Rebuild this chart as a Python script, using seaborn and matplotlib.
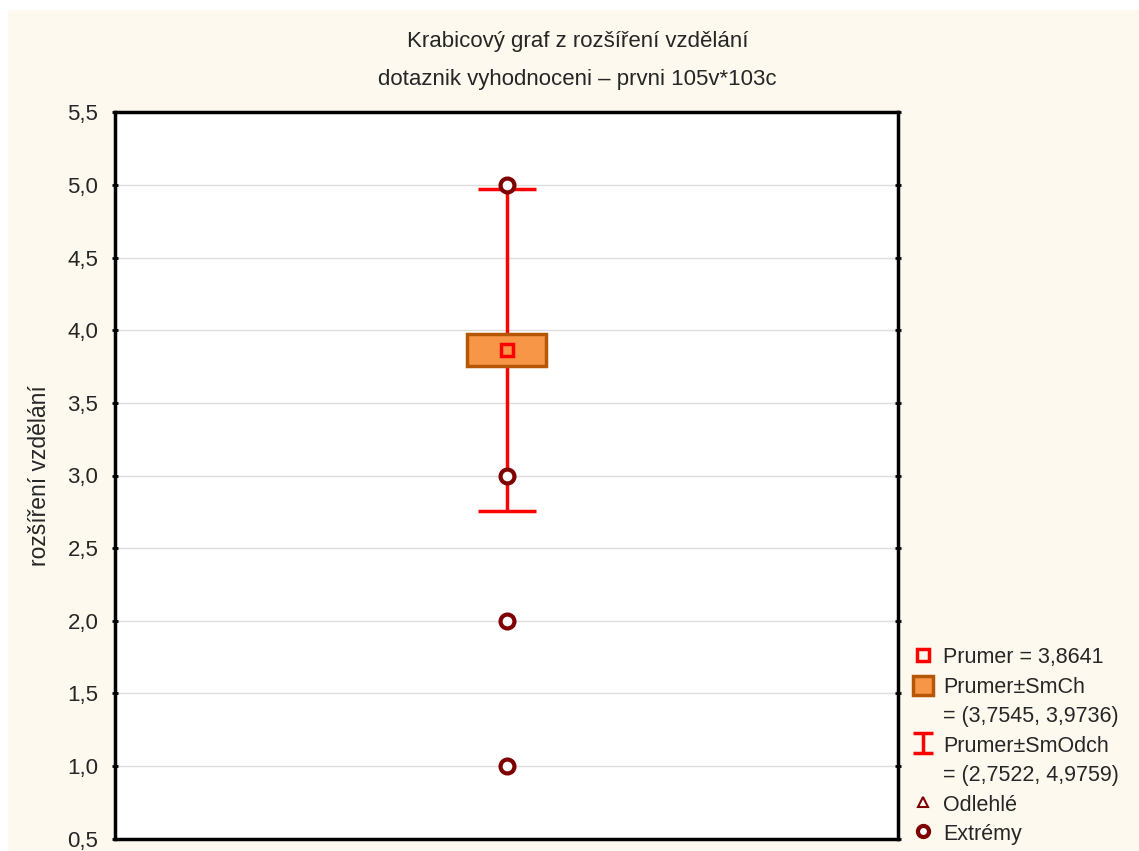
import numpy as np
import pandas as pd
import seaborn as sns
import matplotlib.pyplot as plt
from matplotlib.lines import Line2D
from matplotlib.patches import Patch, Rectangle
from matplotlib.path import Path

# data
group = [""]
mean_val = 3.8641
se_low, se_high = 3.7545, 3.9736
sd_low, sd_high = 2.7522, 4.9759
extremes = [5.0, 3.0, 2.0, 1.0]
yticks = [0.5, 1.0, 1.5, 2.0, 2.5, 3.0, 3.5, 4.0, 4.5, 5.0, 5.5]
ytick_labels = ["0,5", "1,0", "1,5", "2,0", "2,5", "3,0", "3,5", "4,0", "4,5", "5,0", "5,5"]

sns.set_style("white")
plt.rcParams['font.family'] = ['Liberation Sans', 'DejaVu Sans']

cream = "#fdf9ee"
red = "#ff0000"
darkred = "#7f0000"
orange = "#f79646"
brown = "#b65708"

fig = plt.figure(figsize=(11.39, 8.51), dpi=100, facecolor="white")
# cream background panel (white strip on top and left like the original export)
fig.patches.append(Rectangle((8 / 1139, 0), 1, 1 - 10 / 851, transform=fig.transFigure,
                             facecolor=cream, edgecolor="none", zorder=-10))

ax = fig.add_axes([115 / 1139, 1 - 838.6 / 851, 783 / 1139, (838.6 - 112.4) / 851])
ax.set_facecolor("white")

# whisker: mean +- SD
ax.errorbar(0, mean_val, yerr=[[mean_val - sd_low], [sd_high - mean_val]], fmt="none",
            ecolor=red, elinewidth=2.5, capsize=21, capthick=2.5, zorder=2)
# box: mean +- SE
ax.bar(0, se_high - se_low, bottom=se_low, width=0.101, color=orange,
       edgecolor=brown, linewidth=2.5, zorder=3)
# mean marker
ax.plot(0, mean_val, marker="s", ms=8, mfc="none", mec=red, mew=2.5, ls="none", zorder=4)
# extremes
df = pd.DataFrame({"g": group * len(extremes), "v": extremes})
sns.stripplot(data=df, x="g", y="v", jitter=False, ax=ax, marker="o", s=10,
              color="white", edgecolor=darkred, linewidth=3, zorder=5)

ax.set_xlim(-0.5, 0.5)
ax.set_ylim(0.5, 5.5)
ax.set_yticks(yticks)
ax.set_yticklabels(ytick_labels, fontsize=16)
ax.set_xticks([])
ax.set_xlabel("")
ax.set_ylabel("rozšíření vzdělání", fontsize=16.5, labelpad=12)
ax.yaxis.grid(True, color="#dcdcdc", linewidth=1)
ax.set_axisbelow(True)
ax.tick_params(axis="y", which="both", left=True, right=True, direction="inout",
               length=4, width=2, color="black", pad=10)
for s in ax.spines.values():
    s.set_visible(True)
    s.set_color("black")
    s.set_linewidth(2.5)

fig.text(0.507, 1 - 42 / 851, "Krabicový graf z rozšíření vzdělání", ha="center", va="center", fontsize=16)
fig.text(0.507, 1 - 79 / 851, "dotaznik vyhodnoceni – prvni 105v*103c", ha="center", va="center", fontsize=16)

# I-beam marker for the SD legend entry
ibeam = Path([(-1, 1), (1, 1), (0, 1), (0, -1), (-1, -1), (1, -1)],
             [Path.MOVETO, Path.LINETO, Path.MOVETO, Path.LINETO, Path.MOVETO, Path.LINETO])

blank = Line2D([], [], ls="none")
handles = [
    Line2D([], [], marker="s", ms=8, mfc="none", mec=red, mew=2.5, ls="none"),
    Patch(facecolor=orange, edgecolor=brown, linewidth=2.5),
    blank,
    Line2D([], [], marker=ibeam, ms=15, mec=red, mew=2.5, ls="none"),
    blank,
    Line2D([], [], marker="^", ms=7, mfc="white", mec=darkred, mew=1.5, ls="none"),
    Line2D([], [], marker="o", ms=8, mfc="white", mec=darkred, mew=3, ls="none"),
]
labels = [
    "Prumer = 3,8641",
    "Prumer±SmCh",
    "= (3,7545, 3,9736)",
    "Prumer±SmOdch",
    "= (2,7522, 4,9759)",
    "Odlehlé",
    "Extrémy",
]
fig.legend(handles, labels, loc="lower left", bbox_to_anchor=(913 / 1139, 6 / 851),
           frameon=False, fontsize=15.5, handlelength=0.95, handleheight=1.05,
           handletextpad=0.45, labelspacing=0.33, borderpad=0.0, borderaxespad=0.0)

fig.savefig("out.png", dpi=100, facecolor=fig.get_facecolor())
